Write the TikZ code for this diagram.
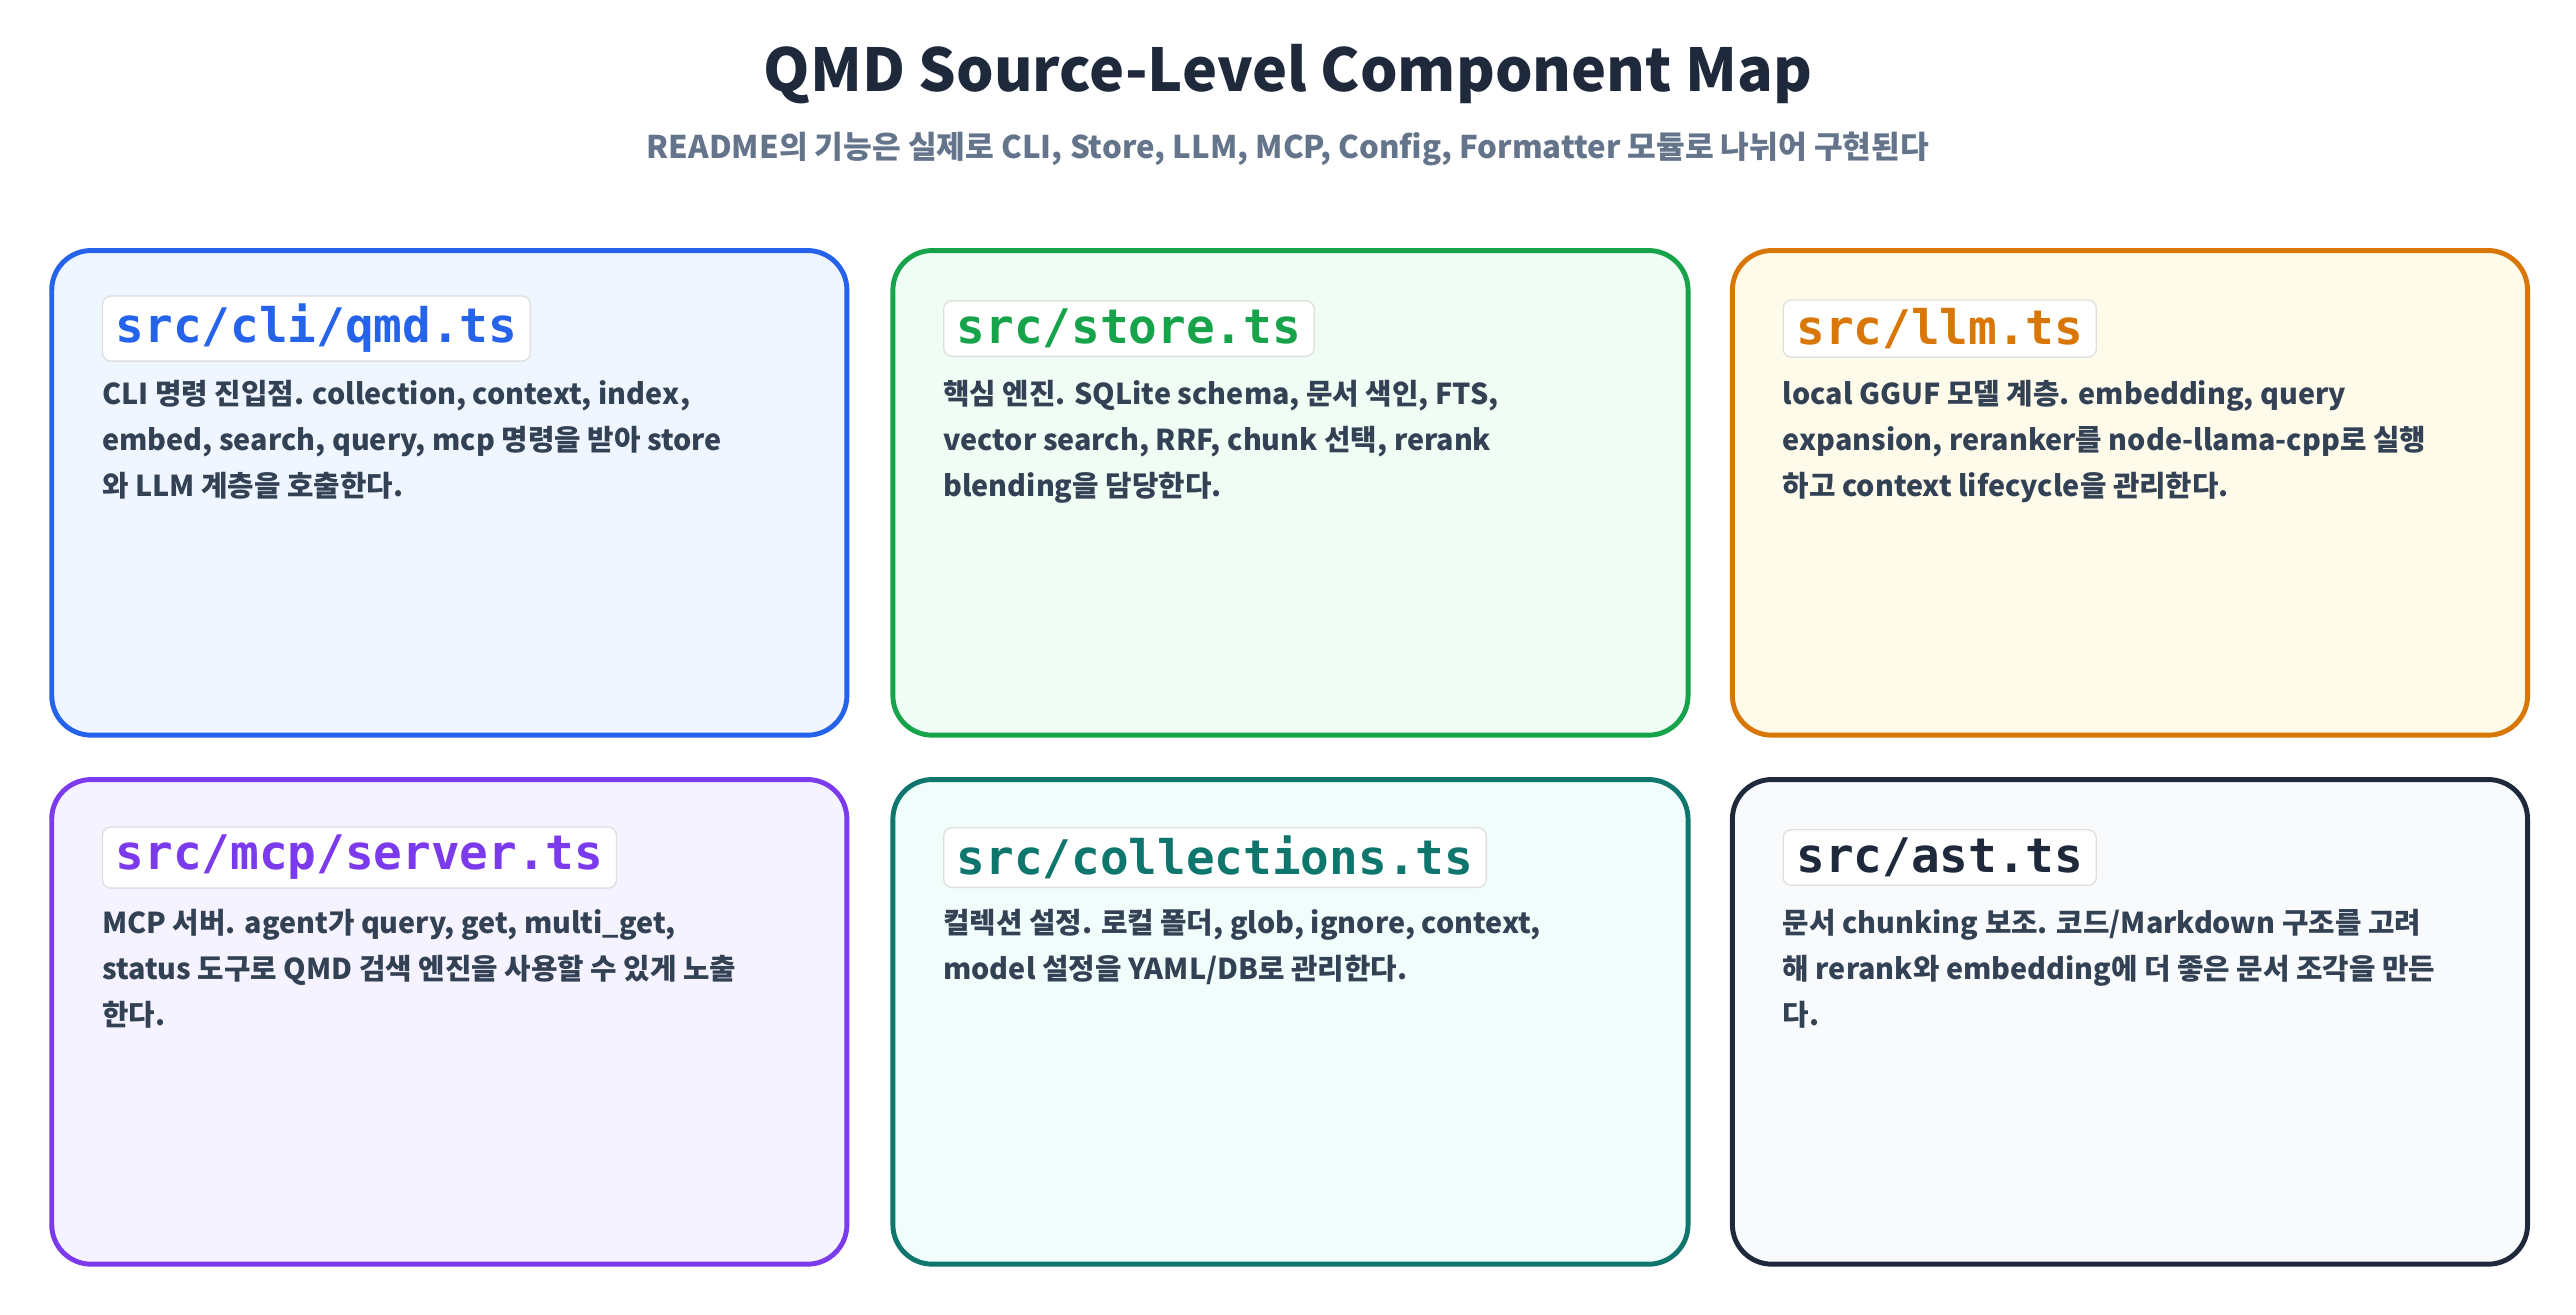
\documentclass[tikz,border=0pt]{standalone}
\usepackage{fontspec}
\setmainfont{Noto Sans CJK KR}
\newfontfamily\monof{DejaVu Sans Mono}
\definecolor{cblue}{HTML}{2563EB}\definecolor{fblue}{HTML}{EFF6FF}
\definecolor{cgreen}{HTML}{16A34A}\definecolor{fgreen}{HTML}{F0FDF4}
\definecolor{corange}{HTML}{D97706}\definecolor{forange}{HTML}{FFFBEB}
\definecolor{cpurple}{HTML}{7C3AED}\definecolor{fpurple}{HTML}{F5F3FF}
\definecolor{cteal}{HTML}{0F766E}\definecolor{fteal}{HTML}{F0FDFA}
\definecolor{cdark}{HTML}{1E293B}\definecolor{fdark}{HTML}{F8FAFC}
\definecolor{ctitle}{HTML}{1E293B}\definecolor{csub}{HTML}{64748B}\definecolor{cbody}{HTML}{334155}
\tikzset{
 card/.style={draw=#1, line width=3pt, rounded corners=24pt, minimum width=484pt, minimum height=295pt, anchor=north west, inner sep=0pt},
 code/.style={text=#1, fill=white, draw=gray!25, line width=0.8pt, rounded corners=5pt, anchor=west, inner xsep=8pt, inner ysep=5pt, font=\monof\bfseries\fontsize{29}{32}\selectfont},
 body/.style={text=cbody, anchor=north west, align=left, inner sep=0pt, font=\bfseries\fontsize{17.5}{28}\selectfont},
}
\begin{document}
\begin{tikzpicture}[x=1pt,y=-1pt]
\useasboundingbox[fill=white] (0,0) rectangle (1568,800);
\node[text=ctitle, font=\bfseries\fontsize{36}{40}\selectfont] (title) at (784,45) {QMD Source-Level Component Map};
\node[text=csub, font=\bfseries\fontsize{19}{22}\selectfont] (sub) at (784,91) {README의 기능은 실제로 CLI, Store, LLM, MCP, Config, Formatter 모듈로 나뉘어 구현된다};
\foreach \n/\x/\y/\c/\f/\lab/\txt in {
 a/30/151/cblue/fblue/src\slash cli\slash qmd.ts/{CLI 명령 진입점. collection, context, index,\\embed, search, query, mcp 명령을 받아 store\\와 LLM 계층을 호출한다.},
 b/542/151/cgreen/fgreen/src\slash store.ts/{핵심 엔진. SQLite schema, 문서 색인, FTS,\\vector search, RRF, chunk 선택, rerank\\blending을 담당한다.},
 c/1053/151/corange/forange/src\slash llm.ts/{local GGUF 모델 계층. embedding, query\\expansion, reranker를 node-llama-cpp로 실행\\하고 context lifecycle을 관리한다.},
 d/30/473/cpurple/fpurple/src\slash mcp\slash server.ts/{MCP 서버. agent가 query, get, multi\_get,\\status 도구로 QMD 검색 엔진을 사용할 수 있게 노출\\한다.},
 e/542/473/cteal/fteal/src\slash collections.ts/{컬렉션 설정. 로컬 폴더, glob, ignore, context,\\model 설정을 YAML/DB로 관리한다.},
 f/1053/473/cdark/fdark/src\slash ast.ts/{문서 chunking 보조. 코드/Markdown 구조를 고려\\해 rerank와 embedding에 더 좋은 문서 조각을 만든\\다.}}{
 \node[card=\c, fill=\f] (\n) at (\x,\y) {};
 \node[code=\c] (\n l) at (\x+32,\y+49) {\lab};
 \node[body] (\n t) at (\x+32,\y+80) {\txt};
}
\end{tikzpicture}
\end{document}
